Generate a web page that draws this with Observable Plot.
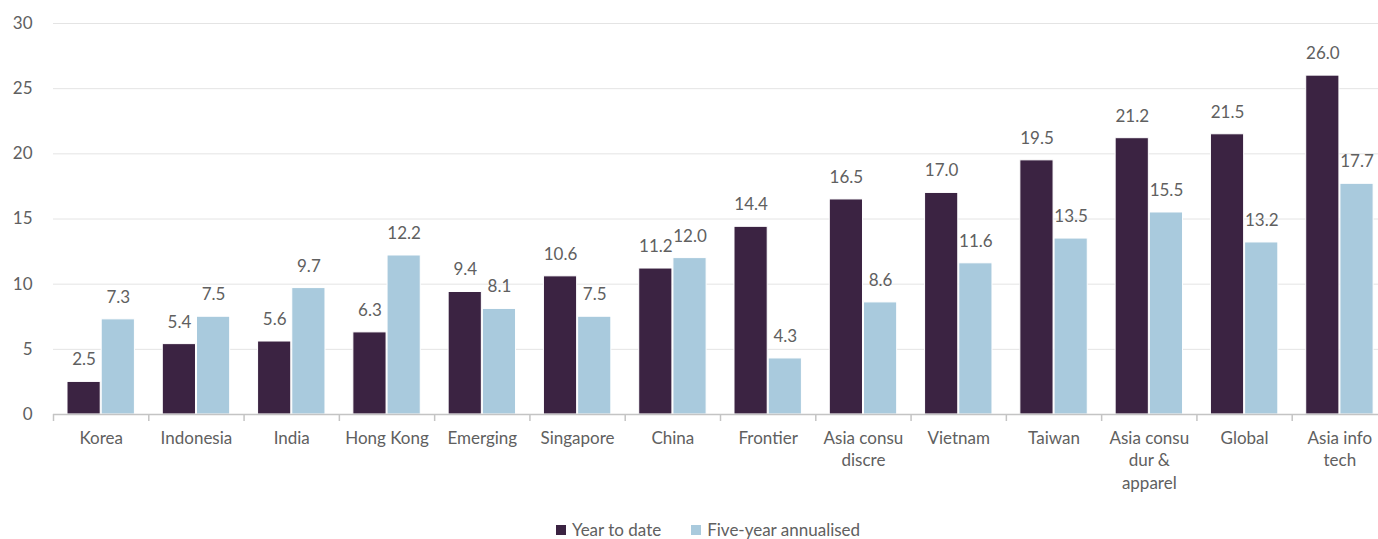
<!DOCTYPE html>
<html>
<head>
<meta charset="utf-8">
<script src="https://cdn.jsdelivr.net/npm/d3@7"></script>
<script src="https://cdn.jsdelivr.net/npm/@observablehq/plot@0.6"></script>
<style>
  body { margin: 0; background: #fff; font-family: Lato, "Open Sans", sans-serif; overflow: hidden; }
  #legend { display: flex; justify-content: center; padding-left: 38px; height: 20px; line-height: 20px;
            font-size: 17px; color: #606060; gap: 30px; }
  #legend span.item { display: flex; align-items: center; }
  #legend span.sw { display: inline-block; width: 10px; height: 10px; margin-right: 6px; }
</style>
</head>
<body>
<div id="chart"></div>
<div id="legend"></div>
<script>
const categories = ["Korea", "Indonesia", "India", "Hong Kong", "Emerging", "Singapore", "China", "Frontier",
  "Asia consu discre", "Vietnam", "Taiwan", "Asia consu dur & apparel", "Global", "Asia info tech"];
const tickLabels = ["Korea", "Indonesia", "India", "Hong Kong", "Emerging", "Singapore", "China", "Frontier",
  "Asia consu\ndiscre", "Vietnam", "Taiwan", "Asia consu\ndur &\napparel", "Global", "Asia info\ntech"];
const yearToDate = [2.5, 5.4, 5.6, 6.3, 9.4, 10.6, 11.2, 14.4, 16.5, 17.0, 19.5, 21.2, 21.5, 26.0];
const fiveYear = [7.3, 7.5, 9.7, 12.2, 8.1, 7.5, 12.0, 4.3, 8.6, 11.6, 13.5, 15.5, 13.2, 17.7];
const seriesNames = ["Year to date", "Five-year annualised"];
const seriesColors = ["#3b2342", "#a9cadd"];
const yTicks = [0, 5, 10, 15, 20, 25, 30];

const W = 1378, ML = 53, MR = -9;
const bw = (W - ML - MR) / categories.length;

const ytdData = categories.map((c, i) => ({cat: c, value: yearToDate[i]}));
const fyData = categories.map((c, i) => ({cat: c, value: fiveYear[i]}));
const labelOf = new Map(categories.map((c, i) => [c, tickLabels[i]]));
const fmt = d3.format(".1f");
const textColor = "#606060";

const chart = Plot.plot({
  width: W,
  height: 520,
  marginLeft: ML,
  marginRight: MR,
  marginTop: 23,
  marginBottom: 106,
  style: {fontFamily: "Lato, 'Open Sans', sans-serif", fontSize: "17px", color: textColor, background: "#fff"},
  x: {domain: categories, padding: 0, round: false, label: null},
  y: {domain: [0, 30], label: null},
  marks: [
    Plot.gridY(yTicks.filter(d => d > 0), {stroke: "#e4e4e4", strokeOpacity: 1}),
    Plot.axisY(yTicks, {tickSize: 0, tickPadding: 21, fontSize: 17, fill: textColor, label: null}),
    Plot.axisX({tickSize: 0, tickPadding: 13, fontSize: 17, fill: textColor, lineHeight: 1.33,
      tickFormat: d => labelOf.get(d), label: null}),
    Plot.barY(ytdData, {x: "cat", y: "value", fill: seriesColors[0], stroke: "#fff", strokeWidth: 1,
      insetLeft: 14, insetRight: bw - 47.2}),
    Plot.barY(fyData, {x: "cat", y: "value", fill: seriesColors[1], stroke: "#fff", strokeWidth: 1,
      insetLeft: 48.2, insetRight: bw - 81.4}),
    Plot.ruleY([0], {stroke: "#c4c4c4", strokeWidth: 1.5}),
    Plot.ruleX(categories, {x: d => d, y1: 0, y2: 0, insetBottom: -7, dx: -bw / 2, stroke: "#c4c4c4", strokeWidth: 1.5}),
    Plot.text(ytdData, {x: "cat", y: "value", text: d => fmt(d.value), dx: 30.6 - bw / 2, dy: -22,
      fill: textColor, fontSize: 17}),
    Plot.text(fyData, {x: "cat", y: "value", text: d => fmt(d.value), dx: 64.8 - bw / 2, dy: -22,
      fill: textColor, fontSize: 17})
  ]
});
document.getElementById("chart").appendChild(chart);

const legend = document.getElementById("legend");
seriesNames.forEach((name, i) => {
  const item = document.createElement("span");
  item.className = "item";
  const sw = document.createElement("span");
  sw.className = "sw";
  sw.style.background = seriesColors[i];
  item.appendChild(sw);
  item.appendChild(document.createTextNode(name));
  legend.appendChild(item);
});
</script>
</body>
</html>
